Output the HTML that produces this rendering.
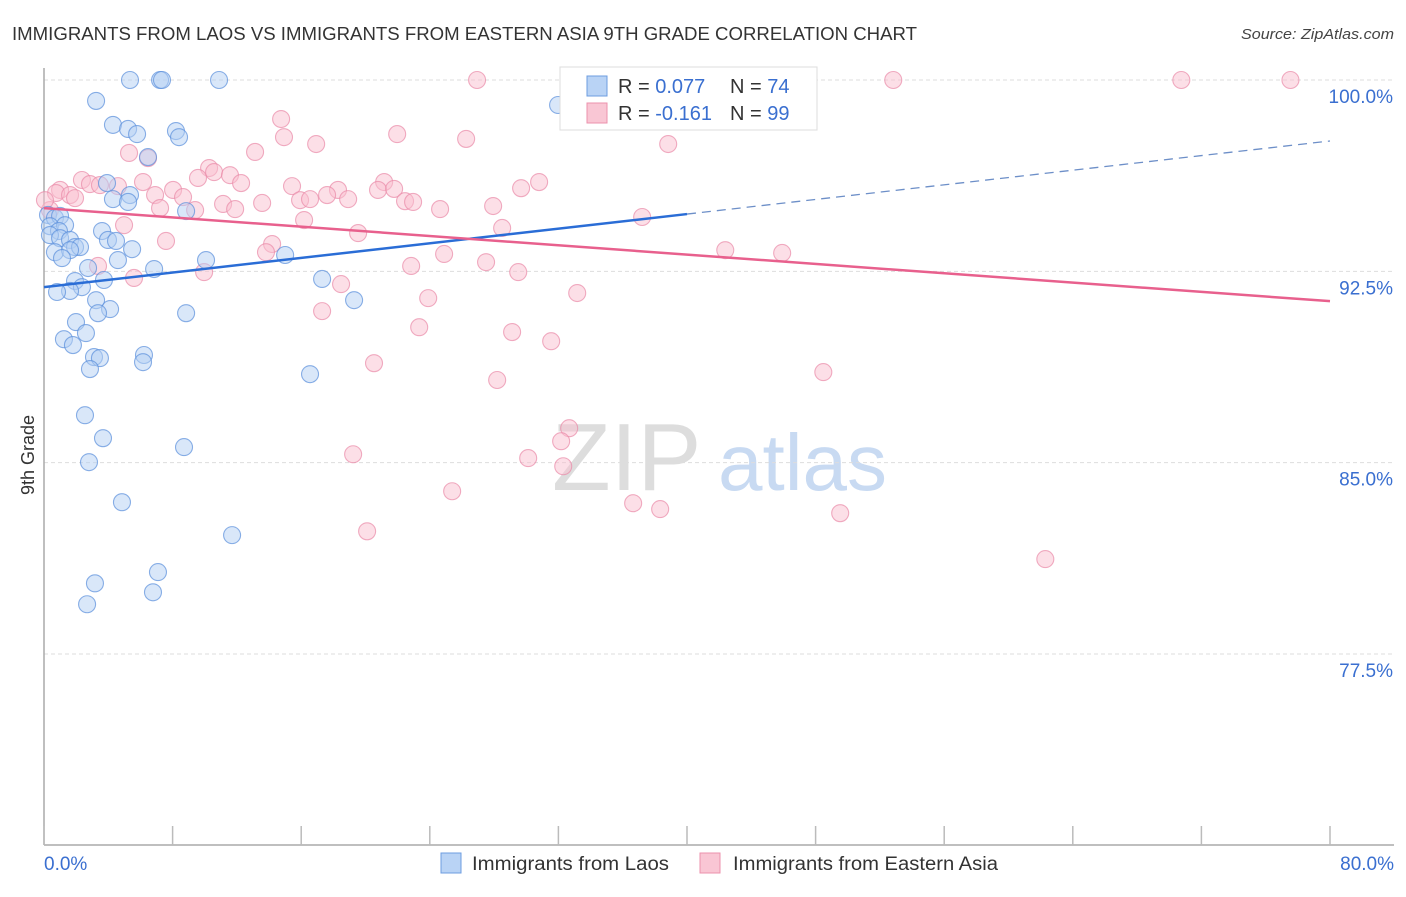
<!DOCTYPE html>
<html><head><meta charset="utf-8"><style>
body{margin:0;background:#fff;font-family:"Liberation Sans",sans-serif}
svg text{font-family:"Liberation Sans",sans-serif}
</style></head><body>
<svg id="c" width="1406" height="892" xmlns="http://www.w3.org/2000/svg">
<text x="12" y="40" font-size="18" fill="#333" textLength="905" lengthAdjust="spacingAndGlyphs">IMMIGRANTS FROM LAOS VS IMMIGRANTS FROM EASTERN ASIA 9TH GRADE CORRELATION CHART</text>
<text x="1241" y="39" font-size="14.5" fill="#444" font-style="italic" textLength="153" lengthAdjust="spacingAndGlyphs">Source: ZipAtlas.com</text>
<g>
<text x="552" y="490" font-size="96" font-family="Liberation Serif" fill="#ddd">ZIP</text>
<text x="718" y="490" font-size="80" fill="#c8daf2">atlas</text>
</g>
<g id="grid"></g><g id="axes"></g><g id="pts"></g><g id="trend"></g>
<text transform="translate(34,455) rotate(-90)" font-size="18" fill="#333" text-anchor="middle">9th Grade</text>
<g>
<rect x="560" y="67" width="257" height="63" fill="#fff" stroke="#ddd"/>
<rect x="587" y="76" width="20" height="20" fill="#b9d3f5" stroke="#6d9de0"/>
<text x="618" y="93" font-size="20" fill="#333">R = <tspan fill="#3a6fd0">0.077</tspan></text>
<text x="730" y="93" font-size="20" fill="#333">N = <tspan fill="#3a6fd0">74</tspan></text>
<rect x="587" y="103" width="20" height="20" fill="#f9c6d4" stroke="#ec91ad"/>
<text x="618" y="120" font-size="20" fill="#333">R = <tspan fill="#3a6fd0">-0.161</tspan></text>
<text x="730" y="120" font-size="20" fill="#333">N = <tspan fill="#3a6fd0">99</tspan></text>
</g>
<g>
<rect x="441" y="853" width="20" height="20" fill="#b9d3f5" stroke="#6d9de0"/>
<text x="472" y="870" font-size="19" fill="#333" textLength="197" lengthAdjust="spacingAndGlyphs">Immigrants from Laos</text>
<rect x="700" y="853" width="20" height="20" fill="#f9c6d4" stroke="#ec91ad"/>
<text x="733" y="870" font-size="19" fill="#333" textLength="265" lengthAdjust="spacingAndGlyphs">Immigrants from Eastern Asia</text>
</g>
</svg>
<script>
const yTicks=[100,92.5,85,77.5];
const yTickLabels=["100.0%","92.5%","85.0%","77.5%"];
const xTickVals=[0,8,16,24,32,40,48,56,64,72,80];
const xEndLabels=["0.0%","80.0%"];
const laosX=[5.35,7.22,7.34,10.89,3.24,4.29,5.23,5.79,8.21,8.40,6.47,31.98,3.92,5.35,4.29,5.23,8.84,0.25,0.68,1.0,0.37,1.31,0.93,0.37,1.0,1.62,3.61,3.98,4.48,1.93,2.24,5.48,0.68,1.62,1.12,4.6,10.08,15.0,2.74,6.85,1.93,3.73,2.36,1.62,0.81,3.24,4.11,3.36,8.84,17.3,19.29,1.99,2.61,1.24,1.80,3.11,3.48,6.22,6.16,2.86,16.55,2.55,3.67,8.71,2.80,4.85,11.7,3.17,7.09,2.68,6.78];
const laosY=[100,100,100,100,99.18,98.24,98.08,97.88,98.0,97.76,96.98,99.02,95.96,95.49,95.33,95.22,94.86,94.71,94.59,94.67,94.27,94.31,94.08,93.92,93.8,93.73,94.08,93.73,93.69,93.45,93.45,93.37,93.25,93.33,93.02,92.94,92.94,93.14,92.63,92.59,92.12,92.16,91.88,91.73,91.69,91.37,91.02,90.86,90.86,92.2,91.37,90.51,90.08,89.84,89.61,89.14,89.1,89.22,88.94,88.67,88.47,86.86,85.96,85.61,85.02,83.45,82.16,80.27,80.71,79.45,79.92];
const easiaX=[26.94,34.35,37.77,43.06,52.83,70.75,77.54,14.75,21.97,26.26,14.93,16.93,38.83,5.29,6.47,13.13,1.0,0.75,1.62,1.93,2.36,2.86,3.48,4.6,6.16,6.91,8.03,8.65,9.40,7.22,10.27,10.58,11.57,12.26,9.58,11.14,11.89,13.57,15.43,15.93,16.55,18.29,18.92,17.61,21.16,20.78,21.78,22.46,22.96,24.64,27.94,29.68,30.8,4.98,7.59,14.19,13.81,16.18,19.54,28.5,37.21,3.36,5.6,9.96,22.84,24.89,27.5,29.5,42.38,45.92,33.17,18.48,17.3,23.9,23.34,29.12,31.55,20.53,28.19,48.48,32.67,32.17,19.23,30.12,32.3,25.39,36.65,38.33,49.53,20.1,62.29,0.37,0.06];
const easiaY=[100,100,100,100,100,100,100,98.47,97.88,97.69,97.76,97.49,97.49,97.14,96.94,97.18,95.69,95.57,95.49,95.37,96.08,95.92,95.88,95.84,96.0,95.49,95.69,95.41,94.9,94.98,96.55,96.39,96.27,95.96,96.16,95.14,94.94,95.18,95.84,95.29,95.33,95.69,95.33,95.49,96.0,95.69,95.73,95.25,95.22,94.94,95.06,95.76,96.0,94.31,93.69,93.57,93.25,94.51,94.0,94.2,94.63,92.71,92.24,92.47,92.71,93.18,92.86,92.47,93.33,93.22,91.65,92.0,90.94,91.45,90.31,90.12,89.76,88.9,88.24,88.55,86.35,85.84,85.33,85.18,84.86,83.88,83.41,83.18,83.02,82.31,81.22,94.9,95.29];
const laosTrend=[91.88,97.61];
const laosSolidEnd=40;
const easiaTrend=[94.98,91.33];

const X0=44,XS=(1330-44)/80,Y100=80,YS=(654-80)/22.5;
const sx=v=>X0+v*XS, sy=v=>Y100+(100-v)*YS;
const NS="http://www.w3.org/2000/svg";
function mk(tag,attrs,parent){const e=document.createElementNS(NS,tag);for(const k in attrs)e.setAttribute(k,attrs[k]);parent.appendChild(e);return e;}
const grid=document.getElementById('grid'),axes=document.getElementById('axes'),pts=document.getElementById('pts'),trend=document.getElementById('trend');
yTicks.forEach((t,i)=>{
 const l=mk('line',{x1:44,x2:1394,y1:sy(t),y2:sy(t),stroke:'#ddd','stroke-dasharray':'4,3'},grid);
 
 
 const tx=mk('text',{x:1393,y:sy(t)+23,'font-size':19,fill:'#3a6fd0','text-anchor':'end'},grid);
 tx.textContent=yTickLabels[i];
 
 
});
const ya=mk('line',{x1:44,x2:44,y1:68,y2:845,stroke:'#aaa','stroke-width':1.5},axes);


const xa=mk('line',{x1:44,x2:1394,y1:845,y2:845,stroke:'#aaa','stroke-width':1.5},axes);


xTickVals.forEach(v=>{
 const t=mk('line',{x1:sx(v),x2:sx(v),y1:826,y2:845,stroke:'#bbb','stroke-width':1.5},axes);
 
 
});
[[0,'start',44],[80,'end',1394]].forEach((a,i)=>{
 const t=mk('text',{x:a[2],y:870,'font-size':19,fill:'#3a6fd0','text-anchor':a[1]},axes);
 t.textContent=xEndLabels[i];
 
 
});
function dots(xs,ys,fill,stroke,name){xs.forEach((x,i)=>{
 const c=mk('circle',{cx:sx(x),cy:sy(ys[i]),r:8.5,fill:fill,'fill-opacity':0.5,stroke:stroke,'stroke-width':1.1,'stroke-opacity':0.7},pts);
 
 
});}
dots(easiaX,easiaY,'#f9c0d0','#e98aa8','point-eastern-asia');
dots(laosX,laosY,'#b4cff3','#5a8edb','point-laos');
const ly=x=>laosTrend[0]+(laosTrend[1]-laosTrend[0])*x/80;
const t1=mk('line',{x1:sx(0),y1:sy(ly(0)),x2:sx(laosSolidEnd),y2:sy(ly(laosSolidEnd)),stroke:'#2a6dd6','stroke-width':2.5},trend);


const t2=mk('line',{x1:sx(laosSolidEnd),y1:sy(ly(laosSolidEnd)),x2:sx(80),y2:sy(ly(80)),stroke:'#6d8fc8','stroke-width':1.3,'stroke-dasharray':'9,6'},trend);


const t3=mk('line',{x1:sx(0),y1:sy(easiaTrend[0]),x2:sx(80),y2:sy(easiaTrend[1]),stroke:'#e8608d','stroke-width':2.5},trend);


</script>
</body></html>
